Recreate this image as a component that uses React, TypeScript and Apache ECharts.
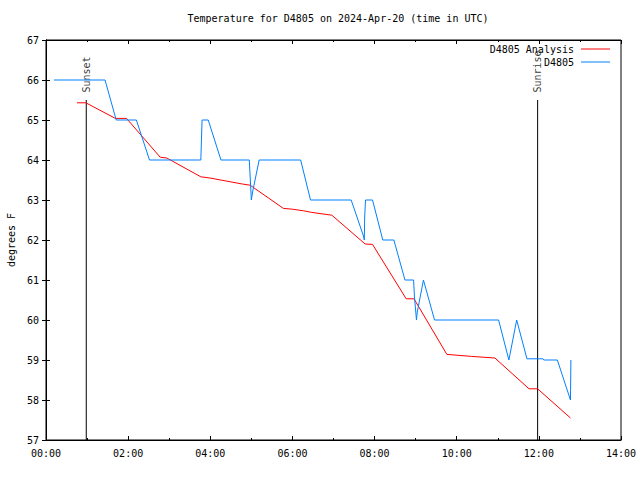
import React, { useEffect, useRef } from "react";
import * as echarts from "echarts";

// Hours (UTC) and temperature (°F)
const obsHours = [0.195, 1.437, 1.71, 2.2, 2.52, 3.77, 3.8, 3.95, 4.26, 4.95, 4.96, 5.0, 5.03, 5.19, 6.2, 6.44, 7.43, 7.73, 7.75, 7.76, 7.78, 7.95, 8.2, 8.47, 8.74, 8.95, 8.97, 9.02, 9.04, 9.19, 9.46, 11.02, 11.27, 11.46, 11.71, 12.1, 12.12, 12.45, 12.77, 12.78];
const obsTemps = [66, 66, 65, 65, 64, 64, 65, 65, 64, 64, 63.8, 63.0, 63.2, 64, 64, 63, 63, 62.1, 62, 62.6, 63, 63, 62, 62, 61, 61, 60.6, 60, 60.2, 61, 60, 60, 59, 60, 59.03, 59.03, 59, 59, 58, 59];

const anaHours = [0.755, 0.97, 1.69, 1.96, 2.78, 2.94, 3.77, 3.99, 4.78, 4.97, 5.78, 6.0, 6.27, 6.47, 6.96, 7.77, 7.95, 8.77, 8.96, 9.76, 10.36, 10.93, 11.76, 11.97, 12.77];
const anaTemps = [65.43, 65.43, 65.04, 65.04, 64.07, 64.05, 63.58, 63.55, 63.4, 63.37, 62.79, 62.77, 62.73, 62.69, 62.62, 61.9, 61.89, 60.53, 60.53, 59.14, 59.09, 59.05, 58.28, 58.28, 57.55];

const sunsetHour = 0.98;
const sunriseHour = 11.97;
const markerTop = 65.5;

const FONT = "DejaVu Sans Mono";

export default function App() {
  const ref = useRef<HTMLDivElement>(null);
  useEffect(() => {
    if (!ref.current) return;
    const chart = echarts.init(ref.current, null, { renderer: "svg" });
    const pair = (h: number[], t: number[]) => h.map((x, i) => [x, t[i]]);
    const fmt = (v: number) => (v < 10 ? "0" : "") + v + ":00";
    const txt = { fontFamily: FONT, fontSize: 10, color: "#000" };
    const vline = (name: string, h: number) => [
      {
        type: "line",
        name,
        data: [[h, 57], [h, markerTop]],
        symbol: "none",
        silent: true,
        lineStyle: { color: "#000", width: 1 },
        z: 1,
      },
      {
        type: "scatter",
        name: name + "lbl",
        data: [[h, markerTop]],
        symbolSize: 1,
        itemStyle: { color: "rgba(0,0,0,0)" },
        silent: true,
        label: {
          show: true,
          formatter: name,
          position: "top",
          distance: 7,
          rotate: 90,
          align: "left",
          verticalAlign: "middle",
          ...txt,
        },
      },
    ];
    const legendCommon = {
      right: 30,
      align: "right",
      orient: "vertical",
      icon: "rect",
      itemWidth: 29,
      itemHeight: 1,
      padding: 0,
      textStyle: { ...txt, padding: [0, 2, 0, 0] },
    };
    chart.setOption({
      animation: false,
      title: {
        text: "Temperature for D4805 on 2024-Apr-20 (time in UTC)",
        left: 333,
        top: 8,
        textAlign: "center",
        textStyle: { ...txt, fontWeight: "normal" },
      },
      grid: {
        left: 46,
        right: 19,
        top: 40,
        bottom: 40,
        containLabel: false,
        outerBoundsMode: "none",
        show: true,
        borderColor: "#000",
        borderWidth: 1,
      },
      legend: [
        { ...legendCommon, data: [{ name: "D4805 Analysis" }], top: 44 },
        { ...legendCommon, data: [{ name: "D4805" }], top: 57 },
      ],
      xAxis: [
        {
          type: "value",
          min: 0,
          max: 14,
          interval: 2,
          axisLine: { lineStyle: { color: "#000" } },
          axisTick: { inside: true, length: 4, lineStyle: { color: "#000" } },
          minorTick: { show: true, splitNumber: 2, length: 2, lineStyle: { color: "#000" } },
          splitLine: { show: false },
          axisLabel: { ...txt, margin: 8, formatter: fmt },
        },
        {
          type: "value",
          position: "top",
          min: 0,
          max: 14,
          interval: 2,
          axisLine: { lineStyle: { color: "#000" } },
          axisTick: { inside: true, length: 4, lineStyle: { color: "#000" } },
          minorTick: { show: true, splitNumber: 2, length: 2, lineStyle: { color: "#000" } },
          splitLine: { show: false },
          axisLabel: { show: false },
        },
      ],
      yAxis: [
        {
          type: "value",
          min: 57,
          max: 67,
          interval: 1,
          name: "degrees F",
          nameLocation: "middle",
          nameGap: 30,
          nameRotate: 90,
          nameTextStyle: txt,
          axisLine: { show: true, lineStyle: { color: "#000" } },
          axisTick: { show: true, inside: true, length: 4, lineStyle: { color: "#000" } },
          splitLine: { show: false },
          axisLabel: { ...txt, margin: 7 },
        },
        {
          type: "value",
          position: "right",
          min: 57,
          max: 67,
          interval: 1,
          axisLine: { show: true, lineStyle: { color: "#000" } },
          axisTick: { show: true, inside: true, length: 4, lineStyle: { color: "#000" } },
          splitLine: { show: false },
          axisLabel: { show: false },
        },
      ],
      series: [
        ...vline("Sunset", sunsetHour),
        ...vline("Sunrise", sunriseHour),
        {
          type: "line",
          name: "D4805 Analysis",
          data: pair(anaHours, anaTemps),
          symbol: "none",
          color: "#ff0000",
          lineStyle: { color: "#ff0000", width: 1 },
          z: 3,
        },
        {
          type: "line",
          name: "D4805",
          data: pair(obsHours, obsTemps),
          symbol: "none",
          color: "#0080ff",
          lineStyle: { color: "#0080ff", width: 1 },
          z: 4,
        },
      ],
    });
    return () => chart.dispose();
  }, []);
  return <div ref={ref} style={{ width: 640, height: 480, position: "absolute", left: 0, top: 0 }} />;
}
